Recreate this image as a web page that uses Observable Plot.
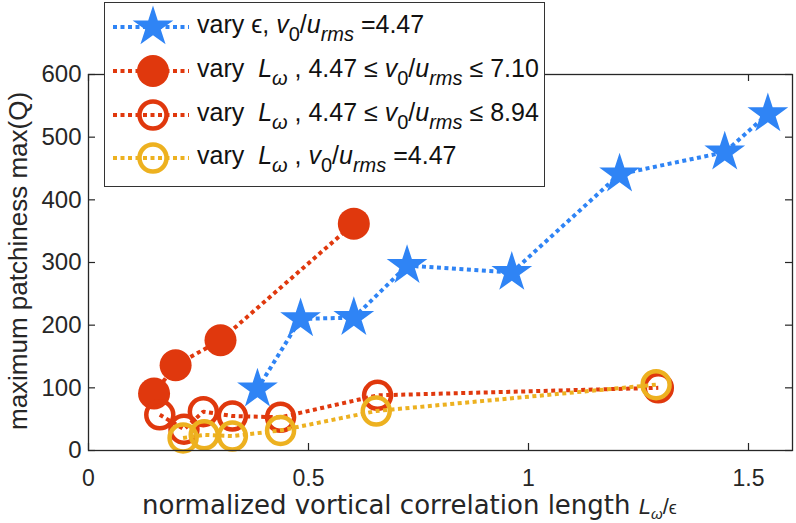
<!DOCTYPE html>
<html><head><meta charset="utf-8">
<script src="https://cdn.jsdelivr.net/npm/d3@7"></script>
<script src="https://cdn.jsdelivr.net/npm/@observablehq/plot@0.6"></script>
<style>
body{margin:0;background:#fff;}
#wrap{position:relative;width:796px;height:523px;font-family:"Liberation Sans",Arial,sans-serif;}
#legend{position:absolute;left:104px;top:2px;width:441px;height:185px;border:1.5px solid #333;background:#fff;box-sizing:border-box;}
.row{position:absolute;left:0;height:44px;}
.row svg{position:absolute;left:4px;top:0;}
.txt{position:absolute;left:92px;top:5px;font-size:25px;line-height:28px;color:#111;white-space:nowrap;}
.txt sub{font-size:0.8em;vertical-align:-0.42em;line-height:0;}
.eps{font-size:1em;}
</style>
</head><body>
<div id="wrap"></div>
<script>
// ---- data ----
const epsX = [0.384, 0.482, 0.603, 0.724, 0.962, 1.207, 1.446, 1.544];
const epsY = [98, 210, 212, 295, 284, 441, 476, 537];
const lw710X = [0.149, 0.198, 0.300, 0.603];
const lw710Y = [91, 136, 176, 362];
const lw894X = [0.162, 0.217, 0.261, 0.327, 0.4365, 0.657, 1.295];
const lw894Y = [57, 34, 62, 55, 53, 88, 100];
const lw447X = [0.215, 0.263, 0.327, 0.4365, 0.654, 1.29];
const lw447Y = [20, 25, 23, 32, 63, 105];
const xTicks = [0, 0.5, 1, 1.5];
const xTickLabels = ["0", "0.5", "1", "1.5"];
const yTicks = [0, 100, 200, 300, 400, 500, 600];
const yTickLabels = ["0", "100", "200", "300", "400", "500", "600"];
const xLabelText = "normalized vortical correlation length ";
const yLabelText = "maximum patchiness max(Q)";
const legendHTML = [
  'vary <span class="eps">&#x03F5;</span>, <i>v</i><sub>0</sub>/<i>u</i><sub><i>rms</i></sub> =4.47',
  'vary&nbsp; <i>L</i><sub><i>&omega;</i></sub> , 4.47 &le; <i>v</i><sub>0</sub>/<i>u</i><sub><i>rms</i></sub> &le; 7.10',
  'vary&nbsp; <i>L</i><sub><i>&omega;</i></sub> , 4.47 &le; <i>v</i><sub>0</sub>/<i>u</i><sub><i>rms</i></sub> &le; 8.94',
  'vary&nbsp; <i>L</i><sub><i>&omega;</i></sub> , <i>v</i><sub>0</sub>/<i>u</i><sub><i>rms</i></sub> =4.47'
];

const BLUE = "#2f84f5", RED = "#e0380d", YEL = "#edb120", AX = "#262626";
const zip = (xs, ys) => xs.map((x, i) => ({x, y: ys[i]}));
const series = [
  {data: zip(epsX, epsY), color: BLUE, kind: "star"},
  {data: zip(lw710X, lw710Y), color: RED, kind: "filled"},
  {data: zip(lw894X, lw894Y), color: RED, kind: "open"},
  {data: zip(lw447X, lw447Y), color: YEL, kind: "open"}
];

const W = 796, H = 523, mt = 74, mb = 73, ml = 88, mr = 4;
const iW = W - ml - mr, iH = H - mt - mb;
const dash = "4,3.5";

function dotMark(s) {
  if (s.kind === "star") return Plot.dot(s.data, {x: "x", y: "y", symbol: "star", r: 12.8, fill: s.color, stroke: "none"});
  if (s.kind === "filled") return Plot.dot(s.data, {x: "x", y: "y", r: 16, fill: s.color, stroke: "none"});
  return Plot.dot(s.data, {x: "x", y: "y", r: 13.5, fill: "none", stroke: s.color, strokeWidth: 4.5});
}

const marks = [];
for (const s of series) {
  marks.push(Plot.line(s.data, {x: "x", y: "y", stroke: s.color, strokeWidth: 4, strokeDasharray: dash, strokeLinecap: "butt"}));
  marks.push(dotMark(s));
}

const chart = Plot.plot({
  width: W, height: H,
  marginTop: mt, marginBottom: mb, marginLeft: ml, marginRight: mr,
  style: {fontFamily: '"Liberation Sans", Arial, sans-serif', color: AX, background: "#fff"},
  x: {domain: [0, 1.6]},
  y: {domain: [0, 600]},
  marks: [
    Plot.tickX(xTicks, {x: d => d, insetTop: iH - 7, stroke: AX, strokeWidth: 1.2}),
    Plot.tickX(xTicks, {x: d => d, insetBottom: iH - 7, stroke: AX, strokeWidth: 1.2}),
    Plot.tickY(yTicks, {y: d => d, insetRight: iW - 7, stroke: AX, strokeWidth: 1.2}),
    Plot.tickY(yTicks, {y: d => d, insetLeft: iW - 7, stroke: AX, strokeWidth: 1.2}),
    Plot.axisX(xTicks, {tickSize: 0, tickPadding: 19, fontSize: 23, label: null, tickFormat: d => xTickLabels[xTicks.indexOf(d)], fill: AX}),
    Plot.axisY(yTicks, {tickSize: 0, tickPadding: 7, fontSize: 24, label: null, tickFormat: d => yTickLabels[yTicks.indexOf(d)], fill: AX}),
    ...marks,
    Plot.frame({stroke: AX, strokeWidth: 1.3})
  ]
});
document.getElementById("wrap").appendChild(chart);

// axis labels
const svg = d3.select(chart);
const xl = svg.append("text").attr("x", 142).attr("y", 514).attr("fill", AX).attr("text-anchor", "start")
  .style("font-family", '"DejaVu Sans", sans-serif').style("font-size", "26px");
xl.append("tspan").text(xLabelText);
xl.append("tspan").text("L").style("font-family", '"Liberation Sans", Arial').style("font-style", "italic").style("font-size", "22px");
xl.append("tspan").text("ω").attr("dy", 5).style("font-family", '"Liberation Sans", Arial').style("font-style", "italic").style("font-size", "15px");
xl.append("tspan").text("/").attr("dy", -5).style("font-family", '"Liberation Sans", Arial').style("font-size", "22px");
xl.append("tspan").text("\u03F5").style("font-family", '"Liberation Sans", Arial').style("font-size", "18px");

svg.append("text").attr("transform", "translate(18,261) rotate(-90)")
  .attr("text-anchor", "middle").attr("dominant-baseline", "central").attr("fill", AX)
  .style("font-family", '"Liberation Sans", Arial, sans-serif').style("font-size", "26px")
  .text(yLabelText);

// legend
const leg = d3.select("#wrap").append("div").attr("id", "legend");
const rowCenters = [24, 68, 112, 155];
series.forEach((s, i) => {
  const row = leg.append("div").attr("class", "row").style("top", (rowCenters[i] - 22) + "px").style("width", "100%");
  const sv = row.append("svg").attr("width", 84).attr("height", 44);
  sv.append("line").attr("x1", 4).attr("x2", 80).attr("y1", 22).attr("y2", 22)
    .attr("stroke", s.color).attr("stroke-width", 4).attr("stroke-dasharray", dash);
  if (s.kind === "star") {
    sv.append("path").attr("d", d3.symbol(d3.symbolStar, Math.PI * 12.8 * 12.8)()).attr("transform", "translate(44,22)").attr("fill", s.color);
  } else if (s.kind === "filled") {
    sv.append("circle").attr("cx", 44).attr("cy", 22).attr("r", 16).attr("fill", s.color);
  } else {
    sv.append("circle").attr("cx", 44).attr("cy", 22).attr("r", 13.5).attr("fill", "none").attr("stroke", s.color).attr("stroke-width", 4.5);
  }
  row.append("div").attr("class", "txt").html(legendHTML[i]);
});
</script>
</body></html>
